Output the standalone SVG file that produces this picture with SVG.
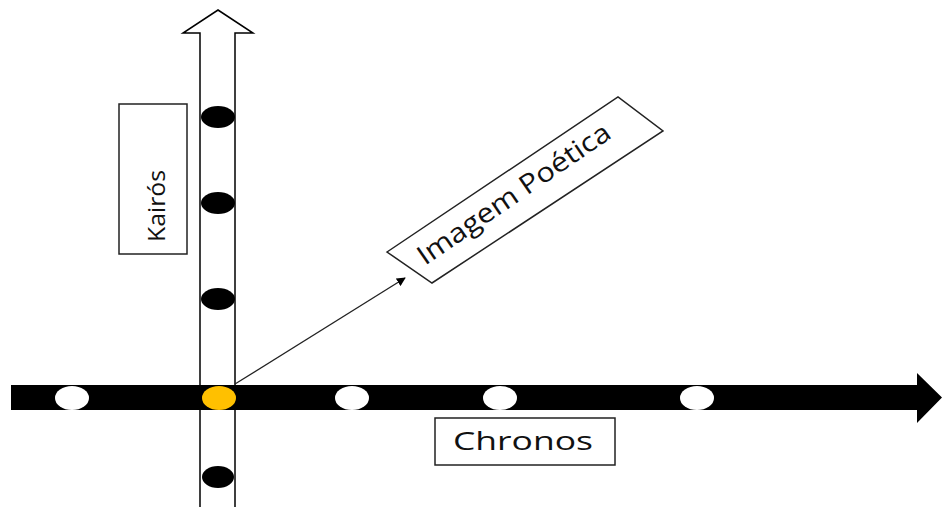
<svg xmlns="http://www.w3.org/2000/svg" width="942" height="507" viewBox="0 0 942 507">
  <style>
    .label { font-family: "Open Sans", "Liberation Sans", sans-serif; fill: #111111; }
    .box { fill: #ffffff; stroke: #222222; stroke-width: 1.5; }
    .kdot { fill: #000000; }
    .cdot { fill: #ffffff; }
  </style>
  <defs>
    <marker id="tip" viewBox="0 0 10 10" refX="9" refY="5" markerWidth="9" markerHeight="9" markerUnits="userSpaceOnUse" orient="auto">
      <path d="M0,0 L10,5 L0,10 z" fill="#000000"/>
    </marker>
  </defs>

  <!-- Kairós axis: hollow upward arrow -->
  <g id="kairos-axis">
    <polygon points="218,10 253,33 235,33 235,515 200,515 200,33 183,33" fill="#ffffff" stroke="#000000" stroke-width="1.5" stroke-linejoin="miter"/>
    <ellipse class="kdot" cx="218" cy="117" rx="17" ry="11"/>
    <ellipse class="kdot" cx="218" cy="203" rx="17" ry="11"/>
    <ellipse class="kdot" cx="218" cy="299" rx="17" ry="11"/>
    <ellipse class="kdot" cx="218" cy="477" rx="16" ry="11"/>
  </g>

  <!-- Chronos axis: solid right arrow -->
  <g id="chronos-axis">
    <polygon points="11,385 917,385 917,373 942,397.5 917,423 917,410 11,410" fill="#000000"/>
    <ellipse class="cdot" cx="72" cy="398" rx="17" ry="12"/>
    <ellipse cx="219" cy="398" rx="17" ry="12" fill="#FFC000"/>
    <ellipse class="cdot" cx="352" cy="398" rx="17" ry="12"/>
    <ellipse class="cdot" cx="500" cy="398" rx="17" ry="12"/>
    <ellipse class="cdot" cx="697" cy="398" rx="17" ry="12"/>
  </g>

  <!-- Connectors -->
  <g id="connectors">
    <line x1="235" y1="384" x2="405" y2="278" stroke="#222222" stroke-width="1.3" marker-end="url(#tip)"/>
  </g>

  <!-- Labels -->
  <g id="kairos-label">
    <rect class="box" x="119" y="104" width="68" height="150"/>
    <text class="label" font-size="23" transform="translate(165,242) rotate(-90)" textLength="72" lengthAdjust="spacingAndGlyphs">Kairós</text>
  </g>

  <g id="imagem-poetica">
    <polygon class="box" points="387,252 618,97 663,131 432,283"/>
    <text class="label" font-size="27" transform="translate(425,266) rotate(-34.5)" textLength="228" lengthAdjust="spacingAndGlyphs">Imagem Poética</text>
  </g>

  <g id="chronos-label">
    <rect class="box" x="435" y="418" width="180" height="47"/>
    <text class="label" font-size="25" x="453" y="450" textLength="140" lengthAdjust="spacingAndGlyphs">Chronos</text>
  </g>
</svg>
